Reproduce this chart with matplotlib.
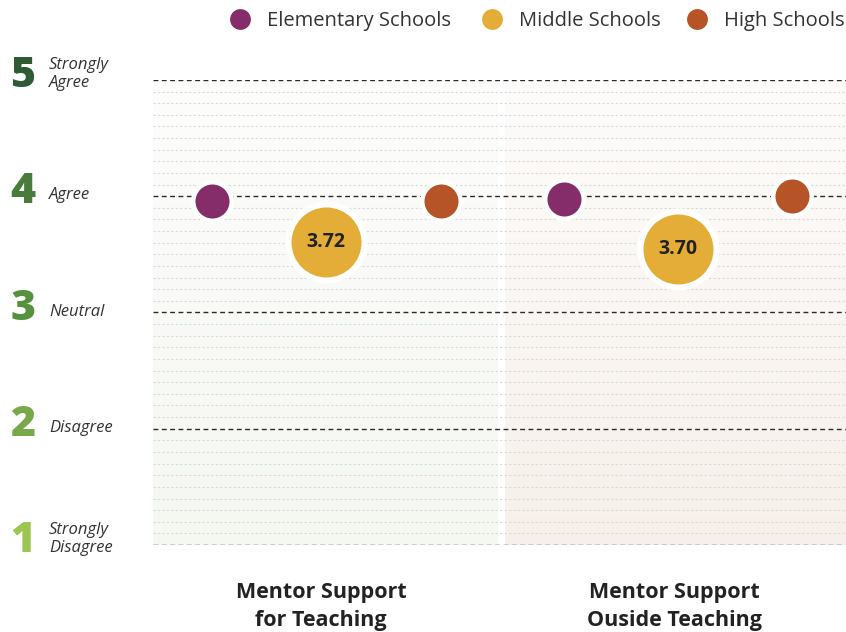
import numpy as np
import matplotlib.pyplot as plt
from matplotlib.lines import Line2D
from matplotlib.colors import to_rgb

# Data
categories = ['Mentor Support\nfor Teaching', 'Mentor Support\nOuside Teaching']
series = ['Elementary Schools', 'Middle Schools', 'High Schools']
colors = ['#852c6a', '#e4ad37', '#b65327']
elementary = [3.96, 3.98]
middle = [3.61, 3.55]          # drawn position
middle_labels = ['3.72', '3.70']
high = [3.96, 4.00]
scale_values = [5, 4, 3, 2, 1]
scale_labels = ['Strongly\nAgree', 'Agree', 'Neutral', 'Disagree', 'Strongly\nDisagree']
scale_colors = ['#2e5a36', '#497b3b', '#55913f', '#78a84a', '#9cc552']

plt.rcParams['font.family'] = ['Open Sans', 'DejaVu Sans']

fig = plt.figure(figsize=(8.46, 6.32), dpi=100)
W, H = 846, 632
ax = fig.add_axes([153 / W, 1 - 545 / H, (846 - 153) / W, (545 - 80) / H])
ax.set_xlim(0, 2)
ax.set_ylim(1, 5)
ax.axis('off')

# panel backgrounds with soft vertical fade
panels = [(0, 0.995, '#f5f7f1'), (1.017, 2.0, '#f7f0ea')]
for x0, x1, c in panels:
    grad = np.ones((100, 1, 4))
    grad[:, 0, :3] = to_rgb(c)
    grad[:, 0, 3] = np.linspace(1.0, 0.2, 100)
    ax.imshow(grad, extent=(x0, x1, 1, 5), origin='lower', aspect='auto', zorder=0)

# grid lines
for v in np.arange(1, 5.01, 0.1):
    if abs(v - round(v)) < 1e-6:
        ax.axhline(v, color='#2a2a2a', lw=1.0, ls=(0, (3.5, 2.5)), zorder=1)
    else:
        ax.axhline(v, color='#d3dbdd', lw=0.8, ls=(0, (2, 2)), zorder=1)

centers = np.array([0.5, 1.515])
offsets = [-0.33, 0.0, 0.33]
sizes = [600, 2540, 600]
rings = [950, 3500, 950]
values = [elementary, middle, high]
for i in range(3):
    xs = centers + offsets[i]
    ax.scatter(xs, values[i], s=rings[i], color='white', zorder=3, clip_on=False, linewidths=0)
    ax.scatter(xs, values[i], s=sizes[i], color=colors[i], zorder=4, clip_on=False, linewidths=0)

for x, y, lab in zip(centers + offsets[1], middle, middle_labels):
    ax.text(x, y, lab, ha='center', va='center', fontsize=14, fontweight='bold',
            color='#222222', zorder=5)

# scale labels on the left
for v, lab, c in zip(scale_values, scale_labels, scale_colors):
    ypx = 545 - (v - 1) * (545 - 80) / 4
    fig.text(23 / W, 1 - (ypx - 4) / H, str(v), ha='center', va='center', fontsize=31,
             fontweight='heavy', color=c)
    shift = 6 if '\n' in lab else 1
    fig.text(49 / W, 1 - (ypx - shift) / H, lab, ha='left', va='center', fontsize=12,
             style='italic', color='#333333', linespacing=1.2)

# category labels
for x, cat in zip([0.485, 1.505], categories):
    ax.text(x, -0.08, cat, transform=ax.get_xaxis_transform(), ha='center', va='top',
            fontsize=15.5, fontweight='bold', color='#222222', linespacing=1.45)

# legend, placed by hand along the top
leg_marker_x = [240, 492, 697]
for mx, name, c in zip(leg_marker_x, series, colors):
    fig.add_artist(Line2D([mx / W], [1 - 19 / H], marker='o', ls='', markersize=15,
                          markerfacecolor=c, markeredgewidth=0, transform=fig.transFigure))
    fig.text((mx + 27) / W, 1 - 21 / H, name, ha='left', va='center', fontsize=14.5,
             color='#333333')

plt.savefig('out.png', dpi=100)
